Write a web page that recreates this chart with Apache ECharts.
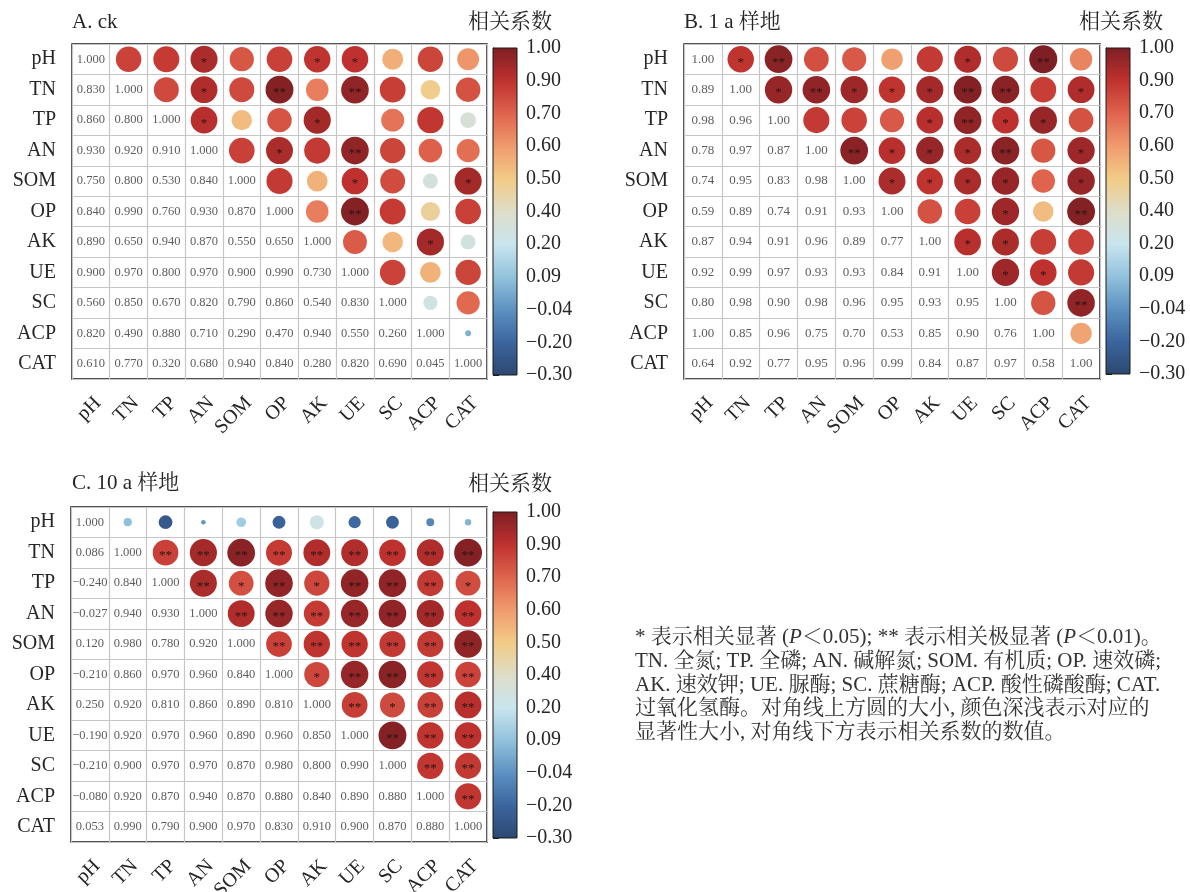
<!DOCTYPE html>
<html><head><meta charset="utf-8">
<script src="https://cdn.jsdelivr.net/npm/echarts@6/dist/echarts.min.js"></script>
<style>html,body{margin:0;padding:0;background:#fff}#c{width:1190px;height:892px}</style>
</head><body><div id="c"></div>
<script>
// ---------- data ----------
const vars = ['pH','TN','TP','AN','SOM','OP','AK','UE','SC','ACP','CAT'];
const tickValues = [1.00, 0.90, 0.70, 0.60, 0.50, 0.40, 0.20, 0.09, -0.04, -0.20, -0.30];
const tickLabels = ['1.00','0.90','0.70','0.60','0.50','0.40','0.20','0.09','\u22120.04','\u22120.20','\u22120.30'];
// colour at each tick, listed from 1.00 (top) to -0.30 (bottom)
const tickColors = ['#7D1F24','#BE312E','#DF634D','#F09A6E','#F2CB86','#DEDDC7','#C9E5EE','#92C2DC','#5C91C1','#3B659E','#2C4870'];

const titleA = 'A. ck';
const titleB = 'B. 1 a 样地';
const titleC = 'C. 10 a 样地';
const legendTitle = '相关系数';

// lower triangle (row i, col j<=i) correlation coefficients
const corrA = [
  [1.000],
  [0.830, 1.000],
  [0.860, 0.800, 1.000],
  [0.930, 0.920, 0.910, 1.000],
  [0.750, 0.800, 0.530, 0.840, 1.000],
  [0.840, 0.990, 0.760, 0.930, 0.870, 1.000],
  [0.890, 0.650, 0.940, 0.870, 0.550, 0.650, 1.000],
  [0.900, 0.970, 0.800, 0.970, 0.900, 0.990, 0.730, 1.000],
  [0.560, 0.850, 0.670, 0.820, 0.790, 0.860, 0.540, 0.830, 1.000],
  [0.820, 0.490, 0.880, 0.710, 0.290, 0.470, 0.940, 0.550, 0.260, 1.000],
  [0.610, 0.770, 0.320, 0.680, 0.940, 0.840, 0.280, 0.820, 0.690, 0.045, 1.000]
];
const corrB = [
  [1.00],
  [0.89, 1.00],
  [0.98, 0.96, 1.00],
  [0.78, 0.97, 0.87, 1.00],
  [0.74, 0.95, 0.83, 0.98, 1.00],
  [0.59, 0.89, 0.74, 0.91, 0.93, 1.00],
  [0.87, 0.94, 0.91, 0.96, 0.89, 0.77, 1.00],
  [0.92, 0.99, 0.97, 0.93, 0.93, 0.84, 0.91, 1.00],
  [0.80, 0.98, 0.90, 0.98, 0.96, 0.95, 0.93, 0.95, 1.00],
  [1.00, 0.85, 0.96, 0.75, 0.70, 0.53, 0.85, 0.90, 0.76, 1.00],
  [0.64, 0.92, 0.77, 0.95, 0.96, 0.99, 0.84, 0.87, 0.97, 0.58, 1.00]
];
const corrC = [
  [1.000],
  [0.086, 1.000],
  [-0.240, 0.840, 1.000],
  [-0.027, 0.940, 0.930, 1.000],
  [0.120, 0.980, 0.780, 0.920, 1.000],
  [-0.210, 0.860, 0.970, 0.960, 0.840, 1.000],
  [0.250, 0.920, 0.810, 0.860, 0.890, 0.810, 1.000],
  [-0.190, 0.920, 0.970, 0.960, 0.890, 0.960, 0.850, 1.000],
  [-0.210, 0.900, 0.970, 0.970, 0.870, 0.980, 0.800, 0.990, 1.000],
  [-0.080, 0.920, 0.870, 0.940, 0.870, 0.880, 0.840, 0.890, 0.880, 1.000],
  [0.053, 0.990, 0.790, 0.900, 0.970, 0.830, 0.910, 0.900, 0.870, 0.880, 1.000]
];

// significance marks for the upper triangle (row i, col j>i)
const sigA = [
  ['','','','*','','','*','*','','',''],
  ['','','','*','','**','','**','','',''],
  ['','','','*','','','*','','','',''],
  ['','','','','','*','','**','','',''],
  ['','','','','','','','*','','','*'],
  ['','','','','','','','**','','',''],
  ['','','','','','','','','','*',''],
  ['','','','','','','','','','',''],
  ['','','','','','','','','','',''],
  ['','','','','','','','','','',''],
  ['','','','','','','','','','','']
];
const sigB = [
  ['','*','**','','','','','*','','**',''],
  ['','','*','**','*','*','*','**','**','','*'],
  ['','','','','','','*','**','*','*',''],
  ['','','','','**','*','*','*','**','','*'],
  ['','','','','','*','*','*','*','','*'],
  ['','','','','','','','','*','','**'],
  ['','','','','','','','*','*','',''],
  ['','','','','','','','','*','*',''],
  ['','','','','','','','','','','**'],
  ['','','','','','','','','','',''],
  ['','','','','','','','','','','']
];
const sigC = [
  ['','','','','','','','','','',''],
  ['','','**','**','**','**','**','**','**','**','**'],
  ['','','','**','*','**','*','**','**','**','*'],
  ['','','','','**','**','**','**','**','**','**'],
  ['','','','','','**','**','**','**','**','**'],
  ['','','','','','','*','**','**','**','**'],
  ['','','','','','','','**','*','**','**'],
  ['','','','','','','','','**','**','**'],
  ['','','','','','','','','','**','**'],
  ['','','','','','','','','','','**'],
  ['','','','','','','','','','','']
];
// circle cells left empty in the original figure
const emptyCellsA = [['TP','UE']];

const noteLines = [
  '* 表示相关显著 ({i|P}＜0.05); ** 表示相关极显著 ({i|P}＜0.01)。',
  'TN. 全氮; TP. 全磷; AN. 碱解氮; SOM. 有机质; OP. 速效磷;',
  'AK. 速效钾; UE. 脲酶; SC. 蔗糖酶; ACP. 酸性磷酸酶; CAT.',
  '过氧化氢酶。对角线上方圆的大小, 颜色深浅表示对应的',
  '显著性大小, 对角线下方表示相关系数的数值。'
];

// ---------- helpers ----------
const SERIF = "'Liberation Serif','Times New Roman',serif";
const CJK = "'Liberation Serif','Noto Serif CJK SC','Noto Sans CJK SC',serif";
const TXT = '#262626';
const NT = tickValues.length - 1;

function toPos(v){
  for (let k = 0; k < NT; k++){
    const a = tickValues[k], b = tickValues[k+1];
    if (v <= a && v >= b) return (NT - k) - (a - v) / (a - b);
  }
  return v > tickValues[0] ? NT : 0;
}
function fmt(v, d){
  const s = Math.abs(v).toFixed(d);
  return (v < 0 ? '\u2212' : '') + s;
}

const panels = [
  {corr: corrA, sig: sigA, dec: 3, empty: emptyCellsA, grid: {left:72, top:44, width:415, height:335}, bar: {left:493, top:48, width:24, height:327}},
  {corr: corrB, sig: sigB, dec: 2, empty: [], grid: {left:684, top:44, width:416, height:335}, bar: {left:1106, top:48, width:24, height:326}},
  {corr: corrC, sig: sigC, dec: 3, empty: [], grid: {left:71, top:507, width:416, height:335}, bar: {left:493, top:512, width:24, height:326}}
];

const grids = [], xAxes = [], yAxes = [], series = [], circleSeriesIdx = [];
const gradStops = tickColors.map((c, k) => ({offset: k / NT, color: c}));

panels.forEach((p, pi) => {
  const gi = grids.length;
  grids.push(Object.assign({show: true, borderColor: '#1a1a1a', borderWidth: 1.5, backgroundColor: 'transparent',
    containLabel: false, outerBoundsMode: 'none'}, p.grid));
  xAxes.push({
    gridIndex: gi, type: 'category', data: vars, position: 'bottom',
    axisLine: {show: false}, axisTick: {show: false},
    axisLabel: {rotate: 45, fontFamily: SERIF, fontSize: 20, color: TXT, margin: 14, interval: 0, verticalAlign: 'top'},
    splitLine: {show: true, interval: 0, lineStyle: {color: '#c6c6c6', width: 1.2}}
  });
  yAxes.push({
    gridIndex: gi, type: 'category', data: vars, inverse: true,
    axisLine: {show: false}, axisTick: {show: false},
    axisLabel: {fontFamily: SERIF, fontSize: 20, color: TXT, margin: 16, interval: 0},
    splitLine: {show: true, interval: 0, lineStyle: {color: '#c6c6c6', width: 1.2}}
  });
  const textData = [], circleData = [];
  for (let i = 0; i < vars.length; i++){
    for (let j = 0; j <= i; j++) textData.push([j, i, p.corr[i][j]]);
    for (let j = i + 1; j < vars.length; j++){
      if (p.empty.some(e => e[0] === vars[i] && e[1] === vars[j])) continue;
      const v = p.corr[j][i];
      circleData.push([j, i, v, toPos(v), p.sig[i][j]]);
    }
  }
  series.push({
    type: 'scatter', xAxisIndex: gi, yAxisIndex: gi, data: textData,
    symbol: 'rect', symbolSize: 1, itemStyle: {color: 'rgba(0,0,0,0)'}, silent: true,
    label: {show: true, position: 'inside', formatter: prm => fmt(prm.value[2], p.dec),
      fontFamily: SERIF, fontSize: p.dec === 3 ? 12.5 : 13, color: '#333'}
  });
  circleSeriesIdx.push(series.length);
  series.push({
    type: 'scatter', xAxisIndex: gi, yAxisIndex: gi, data: circleData,
    symbol: 'circle', symbolSize: val => 28 * Math.sqrt(Math.abs(val[2])),
    itemStyle: {opacity: 1},
    label: {show: true, position: 'inside', formatter: prm => prm.value[4],
      fontFamily: SERIF, fontSize: 13, color: '#2b1515', offset: [0, 3]}
  });
  // colour bar
  const bi = grids.length;
  grids.push(Object.assign({show: false, containLabel: false, outerBoundsMode: 'none'}, p.bar));
  xAxes.push({gridIndex: bi, type: 'value', min: 0, max: 1, show: false});
  yAxes.push({
    gridIndex: bi, type: 'value', min: 0, max: NT, interval: 1, position: 'right',
    axisLine: {show: true, lineStyle: {color: '#1a1a1a', width: 1}},
    axisTick: {show: true, inside: false, length: 6, lineStyle: {color: '#1a1a1a'}},
    axisLabel: {formatter: v => tickLabels[NT - v], fontFamily: SERIF, fontSize: 20, color: TXT, margin: 9},
    splitLine: {show: false}
  });
  series.push({
    type: 'custom', xAxisIndex: bi, yAxisIndex: bi, data: [[0, 0]], silent: true,
    renderItem: (params, api) => {
      const cs = params.coordSys;
      return {type: 'rect', shape: {x: cs.x, y: cs.y, width: cs.width, height: cs.height},
        style: {fill: new echarts.graphic.LinearGradient(0, 0, 0, 1, gradStops), stroke: '#1a1a1a', lineWidth: 1}};
    }
  });
});

const chart = echarts.init(document.getElementById('c'));
chart.setOption({
  backgroundColor: '#fff',
  animation: false,
  grid: grids, xAxis: xAxes, yAxis: yAxes, series: series,
  visualMap: {
    type: 'continuous', show: false, min: 0, max: NT, dimension: 3,
    seriesIndex: circleSeriesIdx,
    inRange: {color: tickColors.slice().reverse()}
  },
  graphic: [
    {type: 'text', x: 72, y: 22, style: {text: titleA, font: '21px ' + SERIF, fill: TXT, verticalAlign: 'middle'}},
    {type: 'text', x: 684, y: 22, style: {text: titleB, font: '21px ' + CJK, fill: TXT, verticalAlign: 'middle'}},
    {type: 'text', x: 72, y: 483, style: {text: titleC, font: '21px ' + CJK, fill: TXT, verticalAlign: 'middle'}},
    {type: 'text', x: 552, y: 22, style: {text: legendTitle, font: '21px ' + CJK, fill: TXT, align: 'right', verticalAlign: 'middle'}},
    {type: 'text', x: 1163, y: 22, style: {text: legendTitle, font: '21px ' + CJK, fill: TXT, align: 'right', verticalAlign: 'middle'}},
    {type: 'text', x: 552, y: 484, style: {text: legendTitle, font: '21px ' + CJK, fill: TXT, align: 'right', verticalAlign: 'middle'}},
    {type: 'text', x: 635, y: 626, style: {
      text: noteLines.join('\n'), fontFamily: CJK, fontSize: 21, lineHeight: 23.7, fill: '#333',
      rich: {i: {fontFamily: SERIF, fontStyle: 'italic', fontSize: 21, lineHeight: 23.7, fill: '#333'}}
    }}
  ]
});
</script>
</body></html>
